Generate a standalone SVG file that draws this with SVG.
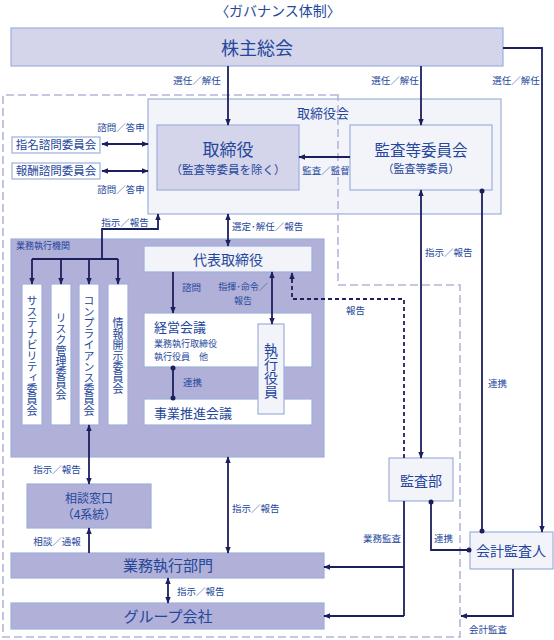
<svg xmlns="http://www.w3.org/2000/svg" width="554" height="640" viewBox="0 0 554 640">
<defs>
<style>
text{font-family:"Noto Sans CJK JP","Noto Sans",sans-serif;fill:#24479b}
.lbl{font-size:9.5px}
.c{text-anchor:middle}
.bx{stroke:#9db0dc;stroke-width:1.2}
.dark{fill:#b0b0d8}
.mid{fill:#d4d4ea}
.light{fill:#f3f3fa}
.white{fill:#ffffff}
.ln{fill:none;stroke:#1c1f5e;stroke-width:1.8}
.ar{marker-end:url(#ah)}
.ar2{marker-start:url(#ah);marker-end:url(#ah)}
.dt{fill:#1c1f5e}
.vt{writing-mode:vertical-rl;text-anchor:middle;font-size:11px}
</style>
<marker id="ah" viewBox="0 0 10 10" refX="9" refY="5" markerWidth="7" markerHeight="7" markerUnits="userSpaceOnUse" orient="auto-start-reverse">
<path d="M0,1 L10,5 L0,9 z" fill="#1c1f5e"/>
</marker>
</defs>
<rect width="554" height="640" fill="#ffffff"/>
<text x="278" y="16" class="c" style="font-size:14px">〈ガバナンス体制〉</text>

<g id="shareholders">
<rect x="11" y="28" width="492" height="38" class="bx mid"/>
<text x="257" y="55" class="c" style="font-size:18px">株主総会</text>
</g>

<g id="board">
<rect x="148" y="99" width="353" height="115" class="bx light"/>
<text x="323" y="118" class="c" style="font-size:13px">取締役会</text>
</g>

<g id="directors">
<rect x="157" y="125" width="142" height="65" class="bx mid"/>
<text x="228" y="156" class="c" style="font-size:17px">取締役</text>
<text x="228" y="174" class="c" style="font-size:11.5px">（監査等委員を除く）</text>
</g>

<g id="audit-committee">
<rect x="350" y="125" width="142" height="65" class="bx light"/>
<text x="421" y="156" class="c" style="font-size:15.5px">監査等委員会</text>
<text x="421" y="173" class="c" style="font-size:11px">（監査等委員）</text>
</g>

<g id="nomination">
<rect x="12" y="137" width="88" height="16" class="bx white"/>
<text x="56" y="149" class="c" style="font-size:11.5px">指名諮問委員会</text>
</g>
<g id="remuneration">
<rect x="12" y="163" width="88" height="16" class="bx white"/>
<text x="56" y="175" class="c" style="font-size:11.5px">報酬諮問委員会</text>
</g>

<g id="executive-org">
<rect x="11" y="239" width="313" height="218" class="bx dark"/>
<text x="16" y="249" style="font-size:9px">業務執行機関</text>
</g>

<g id="rep-director">
<rect x="144" y="246" width="168" height="26" class="bx light"/>
<text x="228" y="265" class="c" style="font-size:14px">代表取締役</text>
</g>

<g id="sustainability">
<rect x="22" y="284" width="20" height="141" class="bx white"/>
<text x="32" y="356" class="vt">サステナビリティ委員会</text>
</g>
<g id="risk">
<rect x="51" y="284" width="20" height="141" class="bx white"/>
<text x="61" y="356" class="vt">リスク管理委員会</text>
</g>
<g id="compliance">
<rect x="79" y="284" width="20" height="141" class="bx white"/>
<text x="89" y="356" class="vt">コンプライアンス委員会</text>
</g>
<g id="disclosure">
<rect x="108" y="284" width="20" height="141" class="bx white"/>
<text x="118" y="356" class="vt">情報開示委員会</text>
</g>

<g id="management-meeting">
<rect x="144" y="313" width="168" height="54" class="bx white"/>
<text x="154" y="332" style="font-size:13px">経営会議</text>
<text x="154" y="347" style="font-size:9px">業務執行取締役</text>
<text x="154" y="360" style="font-size:9px">執行役員　他</text>
</g>

<g id="business-meeting">
<rect x="144" y="399" width="168" height="26" class="bx white"/>
<text x="154" y="418" style="font-size:13px">事業推進会議</text>
</g>

<g id="executive-officers">
<rect x="258" y="324" width="26" height="90" class="bx light"/>
<text x="271" y="371" class="vt" style="font-size:14px">執行役員</text>
</g>

<g id="internal-audit">
<rect x="389" y="458" width="64" height="43" class="bx light"/>
<text x="421" y="486" class="c" style="font-size:14px">監査部</text>
</g>

<g id="accounting-auditor">
<rect x="470" y="532" width="83" height="37" class="bx light"/>
<text x="511" y="556" class="c" style="font-size:14px">会計監査人</text>
</g>

<g id="consultation">
<rect x="27" y="484" width="124" height="44" class="bx dark"/>
<text x="89" y="503" class="c" style="font-size:12px">相談窓口</text>
<text x="89" y="519" class="c" style="font-size:12px">（4系統）</text>
</g>

<g id="business-division">
<rect x="11" y="553" width="313" height="25" class="bx dark"/>
<text x="168" y="571" class="c" style="font-size:15px">業務執行部門</text>
</g>

<g id="group-companies">
<rect x="11" y="603" width="313" height="26" class="bx dark"/>
<text x="168" y="622" class="c" style="font-size:15px">グループ会社</text>
</g>

<g id="scope-border">
<path d="M338,95 H3 V637 H460 V285 H338 Z" fill="none" stroke="#b4b6da" stroke-width="1.6" stroke-dasharray="8 4"/>
</g>

<g id="connectors">
<path class="ln ar" d="M228,66 V125"/>
<path class="ln ar" d="M421,66 V125"/>
<path class="ln ar" d="M503,48 H542 V532"/>
<path class="ln ar" d="M350,157 H299"/>
<path class="ln ar2" d="M102,144 H148"/>
<path class="ln ar2" d="M102,171 H148"/>
<path class="ln ar" d="M102,259 V229 H158 V214"/>
<path class="ln" d="M32,259 H118"/>
<path class="ln ar" d="M32,259 V284"/>
<path class="ln ar" d="M61,259 V284"/>
<path class="ln ar" d="M89,259 V284"/>
<path class="ln ar" d="M118,259 V284"/>
<path class="ln ar2" d="M228,214 V246"/>
<path class="ln ar" d="M173,272 V313"/>
<path class="ln ar2" d="M272,272 V324"/>
<path class="ln" d="M173,367 V399"/>
<circle class="dt" cx="173" cy="368" r="2.5"/>
<circle class="dt" cx="173" cy="398" r="2.5"/>
<path d="M404,458 V299 H292 V273" fill="none" stroke="#1c1f5e" stroke-width="1.8" stroke-dasharray="4 3" marker-end="url(#ah)"/>
<path class="ln ar2" d="M421,190 V458"/>
<path class="ln" d="M482,190 V532"/>
<circle class="dt" cx="482" cy="191" r="2.5"/>
<circle class="dt" cx="482" cy="531" r="2.5"/>
<path class="ln" d="M431,501 V550 H470"/>
<circle class="dt" cx="431" cy="502" r="2.5"/>
<circle class="dt" cx="469" cy="550" r="2.5"/>
<path class="ln" d="M404,501 V616"/>
<path class="ln ar" d="M404,567 H324"/>
<path class="ln ar" d="M404,616 H324"/>
<path class="ln ar" d="M513,569 V616 H461"/>
<path class="ln ar2" d="M89,425 V484"/>
<path class="ln ar" d="M89,553 V528"/>
<path class="ln ar2" d="M228,457 V553"/>
<path class="ln ar2" d="M168,578 V603"/>
</g>

<g id="labels">
<text x="197" y="84" class="lbl c">選任／解任</text>
<text x="395" y="84" class="lbl c">選任／解任</text>
<text x="516" y="84" class="lbl c">選任／解任</text>
<text x="121" y="131" class="lbl c">諮問／答申</text>
<text x="121" y="193" class="lbl c">諮問／答申</text>
<text x="326" y="174" class="lbl c">監査／監督</text>
<text x="125" y="226" class="lbl c">指示／報告</text>
<text x="232" y="230" class="lbl">選定･解任／報告</text>
<text x="182" y="291" class="lbl">諮問</text>
<text x="243" y="290" class="lbl c" style="font-size:9px">指揮･命令／</text>
<text x="243" y="304" class="lbl c" style="font-size:9px">報告</text>
<text x="183" y="386" class="lbl">連携</text>
<text x="346" y="314" class="lbl">報告</text>
<text x="425" y="256" class="lbl">指示／報告</text>
<text x="488" y="387" class="lbl">連携</text>
<text x="57" y="473" class="lbl c">指示／報告</text>
<text x="57" y="545" class="lbl c">相談／通報</text>
<text x="232" y="512" class="lbl">指示／報告</text>
<text x="177" y="595" class="lbl">指示／報告</text>
<text x="363" y="542" class="lbl">業務監査</text>
<text x="434" y="542" class="lbl">連携</text>
<text x="469" y="633" class="lbl">会計監査</text>
</g>
</svg>
